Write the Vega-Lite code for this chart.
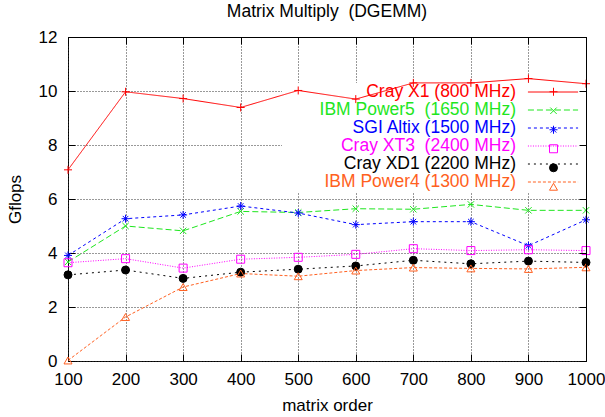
{
  "$schema": "https://vega.github.io/schema/vega-lite/v6.json",
  "width": 518,
  "height": 324,
  "autosize": {"type": "none"},
  "padding": {"left": 68, "top": 37, "right": 19, "bottom": 56},
  "title": {"text": "Matrix Multiply\u00a0 (DGEMM)", "fontSize": 17.5, "fontWeight": "normal", "font": "Liberation Sans", "offset": 8, "color": "black"},
  "config": {
    "font": "Liberation Sans",
    "view": {"stroke": "black", "strokeWidth": 1},
    "axis": {"labelFontSize": 17, "titleFontSize": 17, "titleFontWeight": "normal", "labelColor": "black", "titleColor": "black", "tickColor": "black", "domainColor": "black", "gridColor": "#333333", "gridDash": [1, 2], "gridOpacity": 1, "tickSize": -7, "tickWidth": 1, "domain": false, "labelFlush": false, "labelOverlap": false}
  },
  "data": {"values": [
    {"order": 100, "system": "Cray X1 (800 MHz)", "gflops": 7.08},
    {"order": 200, "system": "Cray X1 (800 MHz)", "gflops": 9.97},
    {"order": 300, "system": "Cray X1 (800 MHz)", "gflops": 9.72},
    {"order": 400, "system": "Cray X1 (800 MHz)", "gflops": 9.39},
    {"order": 500, "system": "Cray X1 (800 MHz)", "gflops": 10.02},
    {"order": 600, "system": "Cray X1 (800 MHz)", "gflops": 9.7},
    {"order": 700, "system": "Cray X1 (800 MHz)", "gflops": 10.3},
    {"order": 800, "system": "Cray X1 (800 MHz)", "gflops": 10.3},
    {"order": 900, "system": "Cray X1 (800 MHz)", "gflops": 10.46},
    {"order": 1000, "system": "Cray X1 (800 MHz)", "gflops": 10.27},
    {"order": 100, "system": "IBM Power5  (1650 MHz)", "gflops": 3.67},
    {"order": 200, "system": "IBM Power5  (1650 MHz)", "gflops": 5.0},
    {"order": 300, "system": "IBM Power5  (1650 MHz)", "gflops": 4.82},
    {"order": 400, "system": "IBM Power5  (1650 MHz)", "gflops": 5.54},
    {"order": 500, "system": "IBM Power5  (1650 MHz)", "gflops": 5.5},
    {"order": 600, "system": "IBM Power5  (1650 MHz)", "gflops": 5.64},
    {"order": 700, "system": "IBM Power5  (1650 MHz)", "gflops": 5.62},
    {"order": 800, "system": "IBM Power5  (1650 MHz)", "gflops": 5.8},
    {"order": 900, "system": "IBM Power5  (1650 MHz)", "gflops": 5.58},
    {"order": 1000, "system": "IBM Power5  (1650 MHz)", "gflops": 5.58},
    {"order": 100, "system": "SGI Altix (1500 MHz)", "gflops": 3.91},
    {"order": 200, "system": "SGI Altix (1500 MHz)", "gflops": 5.27},
    {"order": 300, "system": "SGI Altix (1500 MHz)", "gflops": 5.41},
    {"order": 400, "system": "SGI Altix (1500 MHz)", "gflops": 5.74},
    {"order": 500, "system": "SGI Altix (1500 MHz)", "gflops": 5.48},
    {"order": 600, "system": "SGI Altix (1500 MHz)", "gflops": 5.05},
    {"order": 700, "system": "SGI Altix (1500 MHz)", "gflops": 5.16},
    {"order": 800, "system": "SGI Altix (1500 MHz)", "gflops": 5.16},
    {"order": 900, "system": "SGI Altix (1500 MHz)", "gflops": 4.27},
    {"order": 1000, "system": "SGI Altix (1500 MHz)", "gflops": 5.23},
    {"order": 100, "system": "Cray XT3  (2400 MHz)", "gflops": 3.64},
    {"order": 200, "system": "Cray XT3  (2400 MHz)", "gflops": 3.79},
    {"order": 300, "system": "Cray XT3  (2400 MHz)", "gflops": 3.44},
    {"order": 400, "system": "Cray XT3  (2400 MHz)", "gflops": 3.77},
    {"order": 500, "system": "Cray XT3  (2400 MHz)", "gflops": 3.84},
    {"order": 600, "system": "Cray XT3  (2400 MHz)", "gflops": 3.95},
    {"order": 700, "system": "Cray XT3  (2400 MHz)", "gflops": 4.16},
    {"order": 800, "system": "Cray XT3  (2400 MHz)", "gflops": 4.09},
    {"order": 900, "system": "Cray XT3  (2400 MHz)", "gflops": 4.12},
    {"order": 1000, "system": "Cray XT3  (2400 MHz)", "gflops": 4.09},
    {"order": 100, "system": "Cray XD1 (2200 MHz)", "gflops": 3.19},
    {"order": 200, "system": "Cray XD1 (2200 MHz)", "gflops": 3.37},
    {"order": 300, "system": "Cray XD1 (2200 MHz)", "gflops": 3.06},
    {"order": 400, "system": "Cray XD1 (2200 MHz)", "gflops": 3.29},
    {"order": 500, "system": "Cray XD1 (2200 MHz)", "gflops": 3.4},
    {"order": 600, "system": "Cray XD1 (2200 MHz)", "gflops": 3.52},
    {"order": 700, "system": "Cray XD1 (2200 MHz)", "gflops": 3.73},
    {"order": 800, "system": "Cray XD1 (2200 MHz)", "gflops": 3.6},
    {"order": 900, "system": "Cray XD1 (2200 MHz)", "gflops": 3.7},
    {"order": 1000, "system": "Cray XD1 (2200 MHz)", "gflops": 3.65},
    {"order": 100, "system": "IBM Power4 (1300 MHz)", "gflops": 0.02},
    {"order": 200, "system": "IBM Power4 (1300 MHz)", "gflops": 1.63},
    {"order": 300, "system": "IBM Power4 (1300 MHz)", "gflops": 2.74},
    {"order": 400, "system": "IBM Power4 (1300 MHz)", "gflops": 3.24},
    {"order": 500, "system": "IBM Power4 (1300 MHz)", "gflops": 3.14},
    {"order": 600, "system": "IBM Power4 (1300 MHz)", "gflops": 3.35},
    {"order": 700, "system": "IBM Power4 (1300 MHz)", "gflops": 3.46},
    {"order": 800, "system": "IBM Power4 (1300 MHz)", "gflops": 3.43},
    {"order": 900, "system": "IBM Power4 (1300 MHz)", "gflops": 3.41},
    {"order": 1000, "system": "IBM Power4 (1300 MHz)", "gflops": 3.47}
  ]},
  "resolve": {"axis": {"x": "independent", "y": "independent"}},
  "layer": [
    {
      "mark": {"type": "rect", "color": "white"},
      "encoding": {
        "x": {"datum": 472, "type": "quantitative", "scale": {"domain": [100, 1000], "nice": false, "zero": false},
              "axis": {"orient": "top", "values": [100,200,300,400,500,600,700,800,900,1000], "labels": false, "grid": false, "title": null, "domain": true, "zindex": 1}},
        "x2": {"datum": 1000},
        "y": {"datum": 6.29, "type": "quantitative", "scale": {"domain": [0, 12], "nice": false},
              "axis": {"orient": "right", "values": [0,2,4,6,8,10,12], "labels": false, "grid": false, "title": null, "domain": true, "zindex": 1}},
        "y2": {"datum": 10.28}
      }
    },
    {
      "mark": {"type": "line", "strokeWidth": 1},
      "encoding": {
        "x": {"field": "order", "type": "quantitative", "scale": {"domain": [100, 1000], "nice": false, "zero": false},
              "axis": {"orient": "bottom", "values": [100,200,300,400,500,600,700,800,900,1000], "format": "d", "grid": true, "title": "matrix order", "labelPadding": 17, "titlePadding": 10}},
        "y": {"field": "gflops", "type": "quantitative", "scale": {"domain": [0, 12], "nice": false},
              "axis": {"orient": "left", "values": [0,2,4,6,8,10,12], "grid": true, "title": "Gflops", "labelPadding": 18, "titlePadding": 14}},
        "color": {"field": "system", "type": "nominal",
          "scale": {"domain": ["Cray X1 (800 MHz)", "IBM Power5  (1650 MHz)", "SGI Altix (1500 MHz)", "Cray XT3  (2400 MHz)", "Cray XD1 (2200 MHz)", "IBM Power4 (1300 MHz)"],
                    "range": ["#ff0000", "#1ee61e", "#0000ff", "#ff00ff", "#000000", "#ff6020"]},
          "legend": {"orient": "none", "legendX": 476, "legendY": 46, "direction": "vertical", "title": null, "padding": 0, "rowPadding": 0,
                     "symbolType": "M-2.95,0H2.95", "symbolSize": 289, "symbolStrokeWidth": 1, "labelAlign": "right", "labelOffset": -46, "labelFontSize": 17.5, "labelLimit": 400,
                     "labelExpr": "replace(datum.label, '  ', ' \u00a0')",
                     "symbolStrokeColor": {"expr": "scale('color', datum.value)"},
                     "labelColor": {"expr": "scale('color', datum.value)"}}},
        "strokeDash": {"field": "system", "type": "nominal",
          "scale": {"domain": ["Cray X1 (800 MHz)", "IBM Power5  (1650 MHz)", "SGI Altix (1500 MHz)", "Cray XT3  (2400 MHz)", "Cray XD1 (2200 MHz)", "IBM Power4 (1300 MHz)"],
                    "range": [[1, 0], [6, 3], [3, 3], [1, 1.5], [2, 4], [3, 2]]},
          "legend": {"orient": "none", "legendX": 476, "legendY": 46, "direction": "vertical", "title": null, "padding": 0, "rowPadding": 0,
                     "symbolType": "M-2.95,0H2.95", "symbolSize": 289, "symbolStrokeWidth": 1, "labelAlign": "right", "labelOffset": -46, "labelFontSize": 17.5, "labelLimit": 400,
                     "labelExpr": "replace(datum.label, '  ', ' \u00a0')",
                     "symbolStrokeColor": {"expr": "scale('color', datum.value)"},
                     "labelColor": {"expr": "scale('color', datum.value)"}}}
      }
    },
    {
      "mark": {"type": "point", "filled": false, "size": 64, "strokeWidth": 1, "opacity": 1},
      "encoding": {
        "x": {"field": "order", "type": "quantitative", "axis": null},
        "y": {"field": "gflops", "type": "quantitative", "axis": null},
        "color": {"field": "system", "type": "nominal", "legend": null},
        "fill": {"field": "system", "type": "nominal", "legend": null,
          "scale": {"range": ["transparent", "black", "transparent", "transparent", "transparent", "transparent"]}},
        "shape": {"field": "system", "type": "nominal",
          "sort": ["Cray X1 (800 MHz)", "IBM Power5  (1650 MHz)", "SGI Altix (1500 MHz)", "Cray XT3  (2400 MHz)", "Cray XD1 (2200 MHz)", "IBM Power4 (1300 MHz)"],
          "scale": {"range": ["M-1,0H1M0,-1V1", "M-0.8,-0.8L0.8,0.8M-0.8,0.8L0.8,-0.8", "M-1,0H1M0,-1V1M-0.7,-0.7L0.7,0.7M-0.7,0.7L0.7,-0.7", "square", "circle", "triangle-up"]},
          "legend": {"orient": "none", "legendX": 460, "legendY": 46, "direction": "vertical", "title": null, "padding": 0, "rowPadding": 0,
                     "symbolSize": 64, "symbolOffset": 16.75, "symbolStrokeWidth": 1, "labelFontSize": 17.5, "labelOpacity": 0, "labelExpr": "'.'",
                     "symbolStrokeColor": {"expr": "scale('color', datum.value)"},
                     "symbolFillColor": {"expr": "datum.value === 'Cray XD1 (2200 MHz)' ? 'black' : 'transparent'"}}}
      }
    }
  ]
}
